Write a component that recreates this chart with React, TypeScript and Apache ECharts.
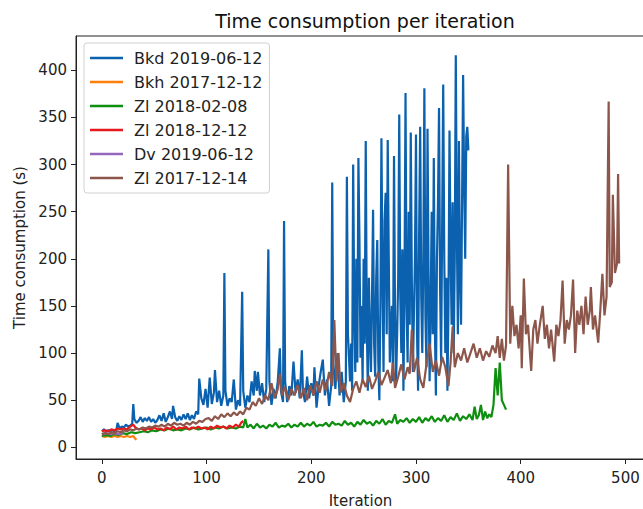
import React, { useEffect, useRef } from "react";
import * as echarts from "echarts";

const seriesNames = [
  "Bkd 2019-06-12",
  "Bkh 2017-12-12",
  "Zl 2018-02-08",
  "Zl 2018-12-12",
  "Dv 2019-06-12",
  "Zl 2017-12-14",
];

const seriesColors = ["#0b61ad", "#ff7f0e", "#0f8f10", "#e41a1c", "#9467bd", "#8c564b"];

const xTicks = [0, 100, 200, 300, 400, 500];
const yTicks = [0, 50, 100, 150, 200, 250, 300, 350, 400];

// [iteration, seconds]
const bkd2019: number[][] = [
  [0,17],[2,19],[4,17],[6,18],[8,17],[10,18],[12,17],[14,19],[15,26],[17,20],[19,22],[21,21],[23,24],[25,22],[27,23],[29,25],[30,46],[31,30],[33,26],[35,28],[37,32],[39,27],[41,31],[43,28],[45,32],[47,27],[49,30],[51,26],[53,29],[55,34],[57,28],[59,36],[61,27],[63,32],[65,38],[67,30],[68,44],[70,32],[72,28],[74,33],[76,29],[78,35],[80,30],[82,36],[84,29],[86,34],[88,30],[90,38],[92,35],
  [93,73],[95,52],[97,45],[99,62],[101,42],[103,74],[105,46],[107,58],[108,82],[110,48],[112,60],[114,44],[116,55],[117,185],[118,60],[120,44],[122,52],[124,48],[126,72],[128,40],[130,50],[132,44],[134,165],[135,60],[137,42],[139,55],[141,48],[143,70],[145,55],[146,81],[148,60],[149,80],[151,55],[153,68],[155,48],[157,62],[159,210],[160,70],[162,45],[164,62],[166,52],[168,70],[170,105],[171,60],[173,48],[174,240],[175,70],[177,48],[179,65],[181,55],[183,91],[185,58],[187,72],[189,52],[191,103],[192,60],[194,48],[196,75],[198,52],[200,68],[202,55],[203,85],[205,42],[207,65],[209,80],[211,93],[213,55],[215,72],[217,44],[219,65],
  [220,281],[221,90],[223,62],[225,100],[227,55],[229,80],[231,48],[233,70],[234,287],[235,120],[237,70],[238,110],[239,60],[240,300],[241,150],[242,80],[243,200],[244,90],[245,307],[246,220],[247,95],[248,150],[249,70],[250,200],[251,110],[252,325],[253,130],[254,60],[255,180],[256,120],[257,80],[258,160],[259,252],[260,110],[261,75],[262,180],[263,220],[264,90],[265,50],[266,150],[267,328],[268,180],[269,80],[270,240],[271,270],[272,120],[273,326],[274,200],[275,90],[276,130],[277,150],[278,70],[279,309],[280,140],[281,70],[282,120],[283,180],[284,353],[285,160],[286,100],[287,210],[288,60],[289,170],[290,376],[291,150],[292,90],[293,250],[294,130],[295,334],[296,180],[297,80],[298,140],[299,200],[300,332],[301,120],[302,60],[303,230],[304,340],[305,160],[306,100],[307,200],[308,381],[309,140],[310,85],[311,338],[312,180],[313,70],[314,150],[315,250],[316,120],[317,307],[318,130],[319,55],[320,200],[321,260],[322,360],[323,170],[324,90],[325,240],[326,385],[327,200],[328,100],[329,180],[330,60],[331,150],[332,336],[333,210],[334,130],[335,260],[336,100],[337,200],[338,416],[339,230],[340,120],[341,325],[342,180],[343,130],[344,260],[345,395],[346,280],[347,200],[348,330],[349,340],[350,315],
];

const bkh2017: number[][] = [
  [0,12],[3,11],[6,12],[9,11],[12,12],[15,11],[18,12],[21,11],[24,12],[27,11],[30,12],[32,9],[33,8],
];

const zl20180208: number[][] = [
  [0,12],[4,13],[8,12],[12,14],[16,13],[20,15],[24,14],[28,16],[32,15],[36,16],[40,17],[44,16],[48,18],[52,17],[56,19],[60,18],[64,20],[68,18],[72,19],[76,18],[80,20],[84,19],[88,21],[92,19],[96,20],[100,21],[104,19],[108,21],[112,20],[116,22],[120,20],[124,21],[128,20],[132,22],[135,21],[137,30],[139,21],[142,24],[145,20],[148,25],[151,21],[154,23],[157,20],[160,24],[163,22],[166,26],[169,21],[172,23],[175,22],[178,25],[181,21],[184,24],[187,22],[190,26],[193,22],[196,25],[199,23],[202,27],[205,22],[208,24],[211,23],[214,26],[217,22],[220,27],[223,24],[226,25],[229,23],[232,28],[235,24],[238,26],[241,22],[244,27],[247,24],[250,29],[253,25],[256,27],[259,23],[262,28],[265,25],[268,30],[271,24],[274,28],[277,26],[280,35],[282,25],[285,29],[288,27],[291,31],[294,26],[297,30],[300,27],[303,32],[306,26],[309,31],[312,28],[315,33],[318,27],[321,31],[324,28],[327,34],[330,27],[333,32],[336,29],[339,36],[342,28],[345,33],[348,30],[351,35],[354,29],[356,43],[358,30],[360,34],[362,45],[364,29],[366,38],[368,31],[370,35],[372,32],[374,45],[376,84],[378,55],[380,90],[382,50],[384,45],[386,40],
];

const zl20181212: number[][] = [
  [0,17],[3,18],[6,17],[9,19],[12,18],[15,20],[18,19],[21,20],[24,19],[27,22],[30,24],[32,21],[35,19],[38,20],[41,18],[44,20],[47,19],[50,21],[53,19],[56,20],[59,18],[62,21],[65,19],[68,22],[71,19],[74,21],[77,20],[80,22],[83,19],[86,21],[89,20],[92,22],[95,20],[98,21],[101,19],[104,22],[107,20],[110,23],[113,21],[116,22],[119,20],[122,23],[125,21],[128,24],[131,22],[133,26],[135,28],
];

const dv2019: number[][] = [
  [0,14],[4,15],[8,14],[12,15],[16,14],[20,15],
];

const zl20171214: number[][] = [
  [0,14],[3,15],[6,14],[9,16],[12,15],[15,17],[18,16],[21,18],[24,17],[27,19],[30,18],[33,20],[36,19],[39,21],[42,20],[45,22],[48,21],[51,23],[54,22],[57,24],[60,22],[63,25],[66,23],[69,26],[72,24],[75,25],[78,23],[81,26],[84,24],[87,27],[90,25],[93,28],[96,27],[99,30],[102,31],[105,28],[108,33],[111,30],[114,35],[117,32],[120,36],[123,33],[126,37],[129,34],[132,38],[135,35],[138,42],[141,40],[144,48],[147,44],[150,52],[153,46],[156,55],[159,50],[162,68],[165,52],[168,62],[170,78],[172,55],[175,64],[178,50],[181,62],[184,55],[187,66],[190,52],[193,63],[196,50],[199,66],[202,55],[205,70],[208,58],[211,72],[214,60],[217,80],[220,65],[222,135],[224,70],[226,100],[228,58],[231,68],[234,55],[237,48],[240,62],[243,70],[246,58],[249,72],[252,64],[255,76],[258,62],[261,70],[264,80],[267,66],[270,74],[273,82],[276,68],[278,90],[280,63],[283,75],[286,88],[289,72],[292,85],[294,78],[296,125],[298,80],[301,95],[304,72],[307,63],[310,88],[313,110],[316,80],[319,92],[322,76],[325,96],[328,85],[331,65],[333,90],[335,128],[337,85],[340,100],[343,92],[346,105],[349,90],[352,100],[355,110],[358,95],[361,105],[364,92],[367,102],[370,96],[373,108],[376,100],[378,118],[380,95],[382,115],[384,92],[386,108],[388,300],[390,110],[392,150],[394,118],[396,130],[398,105],[400,140],[401,84],[403,179],[405,120],[407,130],[410,81],[412,125],[414,135],[416,110],[418,128],[421,150],[423,115],[425,130],[427,105],[429,125],[432,91],[434,130],[436,118],[438,135],[440,177],[442,110],[444,135],[446,125],[448,140],[450,178],[452,100],[454,145],[456,130],[458,150],[460,120],[462,160],[464,130],[466,145],[467,170],[469,125],[471,140],[474,111],[476,145],[478,184],[480,140],[482,160],[484,367],[485,170],[487,175],[488,268],[490,185],[492,195],[493,290],[494,195],
];

const seriesData = [bkd2019, bkh2017, zl20180208, zl20181212, dv2019, zl20171214];

const FONT = "DejaVu Sans";

export default function App() {
  const ref = useRef<HTMLDivElement>(null);
  useEffect(() => {
    if (!ref.current) return;
    const chart = echarts.init(ref.current, undefined, { renderer: "svg" });
    chart.setOption({
      animation: false,
      backgroundColor: "#fff",
      title: {
        text: "Time consumption per iteration",
        left: 360,
        textAlign: "center",
        top: 6,
        textStyle: { fontFamily: FONT, fontSize: 19, fontWeight: "normal", color: "#111" },
      },
      legend: {
        orient: "vertical",
        left: 84,
        top: 43,
        data: seriesNames,
        icon: "rect",
        itemWidth: 33,
        itemHeight: 2.5,
        itemGap: 6,
        backgroundColor: "#fff",
        borderColor: "#d0d0d0",
        borderWidth: 1,
        borderRadius: 3,
        padding: [6, 7, 6, 6],
        textStyle: { fontFamily: FONT, fontSize: 16, lineHeight: 18, color: "#222", padding: [0, 0, 0, 6] },
      },
      grid: {
        left: 76,
        right: -2,
        top: 36,
        bottom: 50,
        outerBoundsMode: "none",
        containLabel: false,
        show: true,
        borderColor: "#222",
        borderWidth: 1,
        backgroundColor: "transparent",
      },
      xAxis: {
        type: "value",
        min: -24.7,
        max: 518.7,
        name: "Iteration",
        nameLocation: "middle",
        nameGap: 34,
        nameTextStyle: { fontFamily: FONT, fontSize: 15, color: "#222" },
        axisLine: { show: true, onZero: false, lineStyle: { color: "#222" } },
        axisTick: { show: true, inside: false, length: 5, customValues: xTicks, lineStyle: { color: "#222" } },
        axisLabel: { customValues: xTicks, fontFamily: FONT, fontSize: 15, color: "#222", margin: 11 },
        splitLine: { show: false },
      },
      yAxis: {
        type: "value",
        min: -12.4,
        max: 436.4,
        name: "Time consumption (s)",
        nameLocation: "middle",
        nameGap: 48,
        nameTextStyle: { fontFamily: FONT, fontSize: 15, color: "#222" },
        axisLine: { show: true, onZero: false, lineStyle: { color: "#222" } },
        axisTick: { show: true, inside: false, length: 5, customValues: yTicks, lineStyle: { color: "#222" } },
        axisLabel: { customValues: yTicks, fontFamily: FONT, fontSize: 15, color: "#222", margin: 9 },
        splitLine: { show: false },
      },
      series: seriesNames.map((name, i) => ({
        name,
        type: "line",
        data: seriesData[i],
        showSymbol: false,
        symbol: "none",
        color: seriesColors[i],
        lineStyle: { width: 2.2, color: seriesColors[i] },
      })),
    });
    return () => chart.dispose();
  }, []);
  return <div ref={ref} style={{ width: 643, height: 509, position: "absolute", left: 0, top: 0 }} />;
}
